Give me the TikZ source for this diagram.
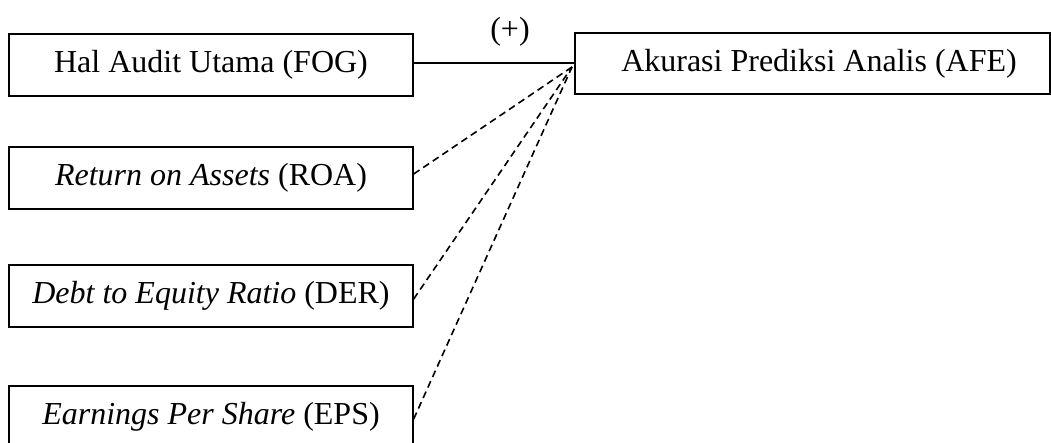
\documentclass[tikz,border=0pt]{standalone}
\usepackage{fontspec}
\setmainfont{Liberation Serif}
\begin{document}
\begin{tikzpicture}[x=1pt,y=-1pt,
  box/.style={draw,line width=1.4pt,minimum width=404pt,minimum height=62pt,inner sep=0pt,font=\fontsize{32}{38}\selectfont},
  conn/.style={line width=1.4pt},
  dconn/.style={line width=1.6pt,dash pattern=on 7pt off 4.5pt}]
\clip (0,0) rectangle (1051,443);
\node[box] (fog) at (211,65) {Hal Audit Utama (FOG)};
\node[box] (roa) at (211,178) {\textit{Return on Assets} (ROA)};
\node[box] (der) at (211,296) {\textit{Debt to Equity Ratio} (DER)};
\node[box] (eps) at (211,417) {\textit{Earnings Per Share} (EPS)};
\node[box,minimum width=475pt,minimum height=61pt] (afe) at (812.5,63.5) {\hspace*{13pt}Akurasi Prediksi Analis (AFE)};
\coordinate (c) at (572,67);
\draw[conn] (fog.east |- 0,63) -- (afe.west |- 0,63);
\node[font=\fontsize{32}{38}\selectfont,inner sep=0pt] (plus) at (510,32) {(+)};
\draw[dconn] ([yshift=4pt]roa.east) -- (c);
\draw[dconn] ([yshift=-3pt]der.east) -- (c);
\draw[dconn] ([yshift=-2pt]eps.east) -- (c);
\end{tikzpicture}
\end{document}
